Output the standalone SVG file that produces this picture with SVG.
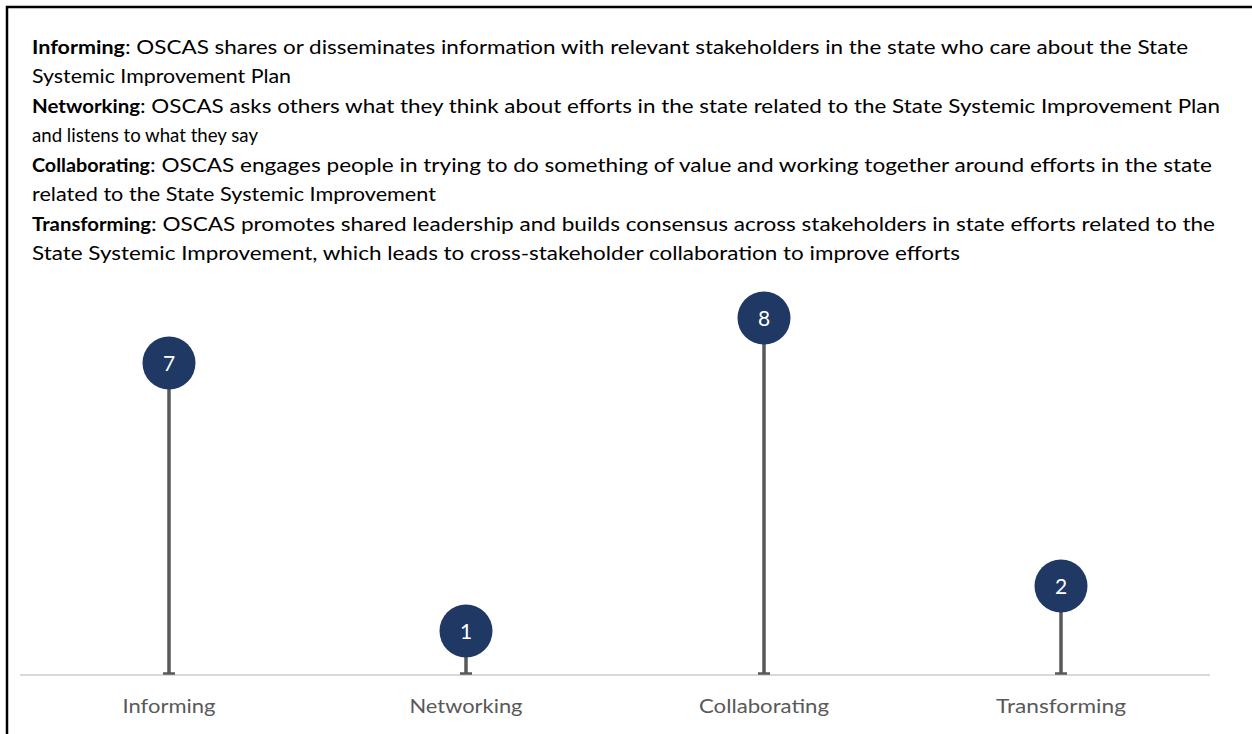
<svg xmlns="http://www.w3.org/2000/svg" width="1252" height="734" viewBox="0 0 1252 734">
<style>
.desc{font-family:Lato,"Open Sans","Liberation Sans",sans-serif;font-size:19.5px;fill:#000}
.b{font-weight:bold}
.cat{font-family:Lato,"Open Sans","Liberation Sans",sans-serif;font-size:19.5px;fill:#595959;text-anchor:middle}
.num{font-family:Lato,"Open Sans","Liberation Sans",sans-serif;font-size:21px;fill:#fff;text-anchor:middle}
.dot{fill:#203864}
.stem{stroke:#595959;stroke-width:3.5;fill:none}
.cap{stroke:#595959;stroke-width:2.5}
</style>
<rect x="0" y="0" width="1252" height="734" fill="#fff"/>
<path d="M7 734 V7 H1252" fill="none" stroke="#000" stroke-width="2.5"/>
<g id="legend">
<text class="desc b" x="32" y="54" textLength="93" lengthAdjust="spacingAndGlyphs">Informing</text>
<text class="desc" x="125" y="54" textLength="1063" lengthAdjust="spacingAndGlyphs">: OSCAS shares or disseminates information with relevant stakeholders in the state who care about the State</text>
<text class="desc" x="32" y="83" textLength="259" lengthAdjust="spacingAndGlyphs">Systemic Improvement Plan</text>
<text class="desc b" x="32" y="113" textLength="108" lengthAdjust="spacingAndGlyphs">Networking</text>
<text class="desc" x="140" y="113" textLength="1080" lengthAdjust="spacingAndGlyphs">: OSCAS asks others what they think about efforts in the state related to the State Systemic Improvement Plan</text>
<text class="desc" x="32" y="142" textLength="226" lengthAdjust="spacingAndGlyphs">and listens to what they say</text>
<text class="desc b" x="32" y="172" textLength="118" lengthAdjust="spacingAndGlyphs">Collaborating</text>
<text class="desc" x="150" y="172" textLength="1062" lengthAdjust="spacingAndGlyphs">: OSCAS engages people in trying to do something of value and working together around efforts in the state</text>
<text class="desc" x="32" y="201" textLength="404" lengthAdjust="spacingAndGlyphs">related to the State Systemic Improvement</text>
<text class="desc b" x="32" y="231" textLength="119" lengthAdjust="spacingAndGlyphs">Transforming</text>
<text class="desc" x="151" y="231" textLength="1064" lengthAdjust="spacingAndGlyphs">: OSCAS promotes shared leadership and builds consensus across stakeholders in state efforts related to the</text>
<text class="desc" x="32" y="260" textLength="928" lengthAdjust="spacingAndGlyphs">State Systemic Improvement, which leads to cross-stakeholder collaboration to improve efforts</text>
</g>
<g id="axis">
<line x1="20" y1="675" x2="1210" y2="675" stroke="#d9d9d9" stroke-width="2"/>
</g>
<g id="connectors">
<line class="stem" x1="169" y1="363" x2="169" y2="674"/>
<line class="cap" x1="163" y1="673.5" x2="175" y2="673.5"/>
<line class="stem" x1="466" y1="631" x2="466" y2="674"/>
<line class="cap" x1="460" y1="673.5" x2="472" y2="673.5"/>
<line class="stem" x1="764" y1="318" x2="764" y2="674"/>
<line class="cap" x1="758" y1="673.5" x2="770" y2="673.5"/>
<line class="stem" x1="1061" y1="586" x2="1061" y2="674"/>
<line class="cap" x1="1055" y1="673.5" x2="1067" y2="673.5"/>
</g>
<g id="node-informing">
<circle class="dot" cx="169" cy="363" r="26.5"/>
<text class="num" x="169" y="370.5">7</text>
<text class="cat" x="169" y="713" textLength="93" lengthAdjust="spacingAndGlyphs">Informing</text>
</g>
<g id="node-networking">
<circle class="dot" cx="466" cy="631" r="26.5"/>
<text class="num" x="466" y="638.5">1</text>
<text class="cat" x="466" y="713" textLength="113" lengthAdjust="spacingAndGlyphs">Networking</text>
</g>
<g id="node-collaborating">
<circle class="dot" cx="764" cy="318" r="26.5"/>
<text class="num" x="764" y="325.5">8</text>
<text class="cat" x="764" y="713" textLength="130" lengthAdjust="spacingAndGlyphs">Collaborating</text>
</g>
<g id="node-transforming">
<circle class="dot" cx="1061" cy="586" r="26.5"/>
<text class="num" x="1061" y="593.5">2</text>
<text class="cat" x="1061" y="713" textLength="130" lengthAdjust="spacingAndGlyphs">Transforming</text>
</g>
</svg>
